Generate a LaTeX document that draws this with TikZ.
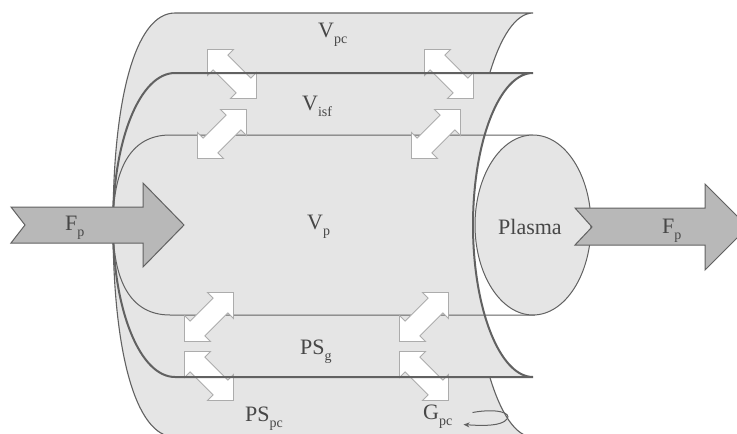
\documentclass[tikz,border=0pt]{standalone}
\usepackage{fontspec}
\setmainfont{Liberation Serif}
\usepackage{tikz}
\usetikzlibrary{arrows.meta}
\definecolor{wallgray}{gray}{0.9}
\definecolor{flowgray}{gray}{0.72}
\definecolor{edgegray}{gray}{0.38}
\definecolor{textgray}{gray}{0.28}
\def\ah{34.6}
\def\hd{16.2}
\def\hw{18.4}
\def\sw{10.5}
\newcommand{\lowtext}[1]{\raisebox{-0.3em}{\fontsize{14}{14}\selectfont #1}}
\newcommand{\outershape}[1]{%
% #1 = path options, outer capillary wall
\path[#1] (175,13) -- (533,13)
  arc[start angle=-90, end angle=-270, x radius=62, y radius=212]
  -- (175,437) .. controls (135,437) and (113,350) .. (113,225)
  .. controls (113,100) and (135,13) .. (175,13) -- cycle;
}
\newcommand{\midshape}[1]{%
% #1 = path options, interstitial layer
\path[#1] (175,73) -- (533,73)
  arc[start angle=-90, end angle=-270, x radius=60, y radius=152]
  -- (175,377) .. controls (140,377) and (113,310) .. (113,225)
  .. controls (113,140) and (140,73) .. (175,73) -- cycle;
}
\newcommand{\exchange}[3]{%
% #1 = x, #2 = y, #3 = angle (45 = NE-SW, -45 = NW-SE)
\begin{scope}[shift={(#1,#2)}, rotate=#3]
\draw[swap] (\ah,0) -- (\hd,\hw) -- (\hd,\sw) -- (-\hd,\sw) -- (-\hd,\hw)
  -- (-\ah,0) -- (-\hd,-\hw) -- (-\hd,-\sw) -- (\hd,-\sw) -- (\hd,-\hw) -- cycle;
\end{scope}
}

\begin{document}
\begin{tikzpicture}[
    x=1pt, y=-1pt,
    >={Stealth[length=6pt,width=5pt]},
    wall/.style={fill=wallgray, draw=edgegray, line width=1.1pt},
    midline/.style={draw=edgegray, line width=2pt},
    innerline/.style={draw=edgegray, line width=1pt},
    swap/.style={fill=white, draw=gray!65, line width=0.9pt},
    flow/.style={fill=flowgray, draw=edgegray, line width=1pt},
    every node/.style={font=\fontsize{22}{26}\selectfont, text=textgray,
                       inner sep=0pt, anchor=base west}
]
\fill[white] (0,0) rectangle (737,434);
\useasboundingbox (0,0) rectangle (737,434);
\clip (0,0) rectangle (737,434);

% layers
\outershape{wall}
\midshape{fill=wallgray}
\draw[innerline] (533,135) -- (170,135) .. controls (130,135) and (113,170) .. (113,225)
  .. controls (113,280) and (130,315) .. (170,315) -- (535,315);
\draw[wall, line width=1pt] (533,225) ellipse[x radius=58, y radius=90];

% exchange arrows
\exchange{222}{134}{45}
\exchange{436}{134}{45}
\exchange{209}{317}{45}
\exchange{424}{317}{45}
\exchange{232}{74}{-45}
\exchange{449}{74}{-45}
\exchange{209}{376}{-45}
\exchange{424}{376}{-45}

\midshape{midline}

% plasma flow
\draw[flow] (11,207) -- (143,207) -- (143,183) -- (184,225) -- (143,267)
  -- (143,243) -- (11,243) -- (25,225) -- cycle;
\draw[flow] (575,208) -- (705,208) -- (705,184) -- (748,227) -- (705,270)
  -- (705,245) -- (575,245) -- (592,227) -- cycle;

\node (Vpc) at (318,37) {V\lowtext{pc}};
\node (Visf) at (302,110) {V\lowtext{isf}};
\node (Vp) at (307,229) {V\lowtext{p}};
\node (PSg) at (300,354) {PS\lowtext{g}};
\node (PSpc) at (245,421) {PS\lowtext{pc}};
\node (Gpc) at (423,419) {G\lowtext{pc}};
\node (plasma) at (498,234) {Plasma};
\node (Fin) at (65,230) {F\lowtext{p}};
\node (Fout) at (662,233) {F\lowtext{p}};

\coordinate (gpcturn) at (507,419);
\draw[->, edgegray, line width=1pt] ([shift={(20pt,4pt)}]Gpc.east)
  .. controls (497,408) and (512,413) .. (gpcturn)
  .. controls (502,426) and (484,426) .. ([shift={(11pt,-8pt)}]Gpc.east);
\end{tikzpicture}
\end{document}
